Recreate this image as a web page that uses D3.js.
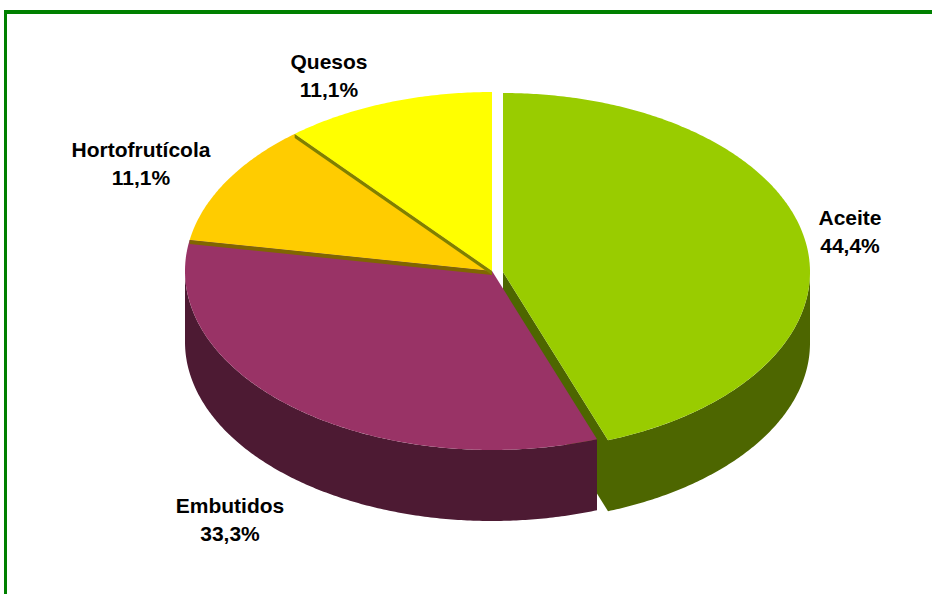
<!DOCTYPE html>
<html>
<head>
<meta charset="utf-8">
<script src="https://cdn.jsdelivr.net/npm/d3@7"></script>
<style>
  body { margin: 0; background: #fff; }
  text { font-family: "Liberation Sans", Arial, sans-serif; font-weight: bold; font-size: 21px; fill: #000; }
</style>
</head>
<body>
<svg id="chart" width="932" height="594"></svg>
<script>
// données
const categories = ["Aceite", "Embutidos", "Hortofrutícola", "Quesos"];
const percentages = [44.4, 33.3, 11.1, 11.1];
const topColors = ["#99CC00", "#993366", "#FFCC00", "#FFFF00"];
const sideColors = ["#4D6600", "#4D1A33", "#806600", "#808000"];
const exploded = [true, false, false, false];
// position des étiquettes (centre x, ligne de base)
const labelAt = [[850, 225], [230, 513], [141, 157], [329, 69]];

const svg = d3.select("#chart");

// cadre vert (haut et gauche)
svg.append("line").attr("x1", 4).attr("x2", 932).attr("y1", 12).attr("y2", 12)
  .attr("stroke", "#008000").attr("stroke-width", 4);
svg.append("line").attr("x1", 5.5).attr("x2", 5.5).attr("y1", 10).attr("y2", 594)
  .attr("stroke", "#008000").attr("stroke-width", 3);

// géométrie du camembert 3D
const cx = 492, cy = 271, rx = 307, ry = 179, depth = 71;
const explodeDx = 11, explodeDy = 1;

const pie = d3.pie().sort(null).value(d => d)(percentages);

const slices = pie.map((p, i) => ({
  i: i,
  a0: p.startAngle,
  a1: p.endAngle,
  ox: exploded[i] ? cx + explodeDx : cx,
  oy: exploded[i] ? cy + explodeDy : cy
}));

function pt(s, a, dz) {
  return [s.ox + rx * Math.sin(a), s.oy - ry * Math.cos(a) + (dz || 0)];
}
function arcPts(s, from, to, dz) {
  const n = Math.max(2, Math.ceil(Math.abs(to - from) / 0.01));
  return d3.range(n + 1).map(k => pt(s, from + (to - from) * k / n, dz));
}
const line = d3.line();

const walls = svg.append("g");
const tops = svg.append("g");
const bands = svg.append("g");

// face radiale visible ?
function faceVisible(normal) { return Math.cos(normal - Math.PI) > 1e-6; }

slices.forEach(s => {
  // faces radiales de la part détachée
  if (exploded[s.i]) {
    [[s.a0, s.a0 - Math.PI / 2], [s.a1, s.a1 + Math.PI / 2]].forEach(([a, n]) => {
      if (!faceVisible(n)) return;
      const e = pt(s, a), c = [s.ox, s.oy];
      walls.append("path")
        .attr("d", line([c, e, [e[0], e[1] + depth], [c[0], c[1] + depth]]) + "Z")
        .attr("fill", sideColors[s.i]);
    });
  }
  // paroi extérieure (moitié avant)
  const lo = Math.max(s.a0, Math.PI / 2), hi = Math.min(s.a1, 3 * Math.PI / 2);
  if (lo < hi) {
    const pts = arcPts(s, lo, hi, 0).concat(arcPts(s, hi, lo, depth));
    walls.append("path")
      .attr("d", line(pts) + "Z")
      .attr("fill", sideColors[s.i]);
  }
});

// dessus des parts
slices.forEach(s => {
  const pts = [[s.ox, s.oy]].concat(arcPts(s, s.a0, s.a1, 0));
  tops.append("path")
    .attr("d", line(pts) + "Z")
    .attr("fill", topColors[s.i]);
});

// petites bandes d'épaisseur entre parts voisines
slices.forEach(s => {
  if (exploded[s.i]) return;
  const n = s.a0 - Math.PI / 2;
  if (!faceVisible(n)) return;
  const h = 4, e = pt(s, s.a0), c = [s.ox, s.oy];
  bands.append("path")
    .attr("d", line([c, e, [e[0], e[1] + h], [c[0], c[1] + h]]) + "Z")
    .attr("fill", sideColors[s.i]);
});

// étiquettes
const fmt = v => d3.format(".1f")(v).replace(".", ",") + "%";
const labels = svg.append("g");
categories.forEach((name, i) => {
  const t = labels.append("text")
    .attr("text-anchor", "middle")
    .attr("x", labelAt[i][0])
    .attr("y", labelAt[i][1]);
  t.append("tspan").attr("x", labelAt[i][0]).text(name);
  t.append("tspan").attr("x", labelAt[i][0]).attr("dy", 28).text(fmt(percentages[i]));
});
</script>
</body>
</html>
